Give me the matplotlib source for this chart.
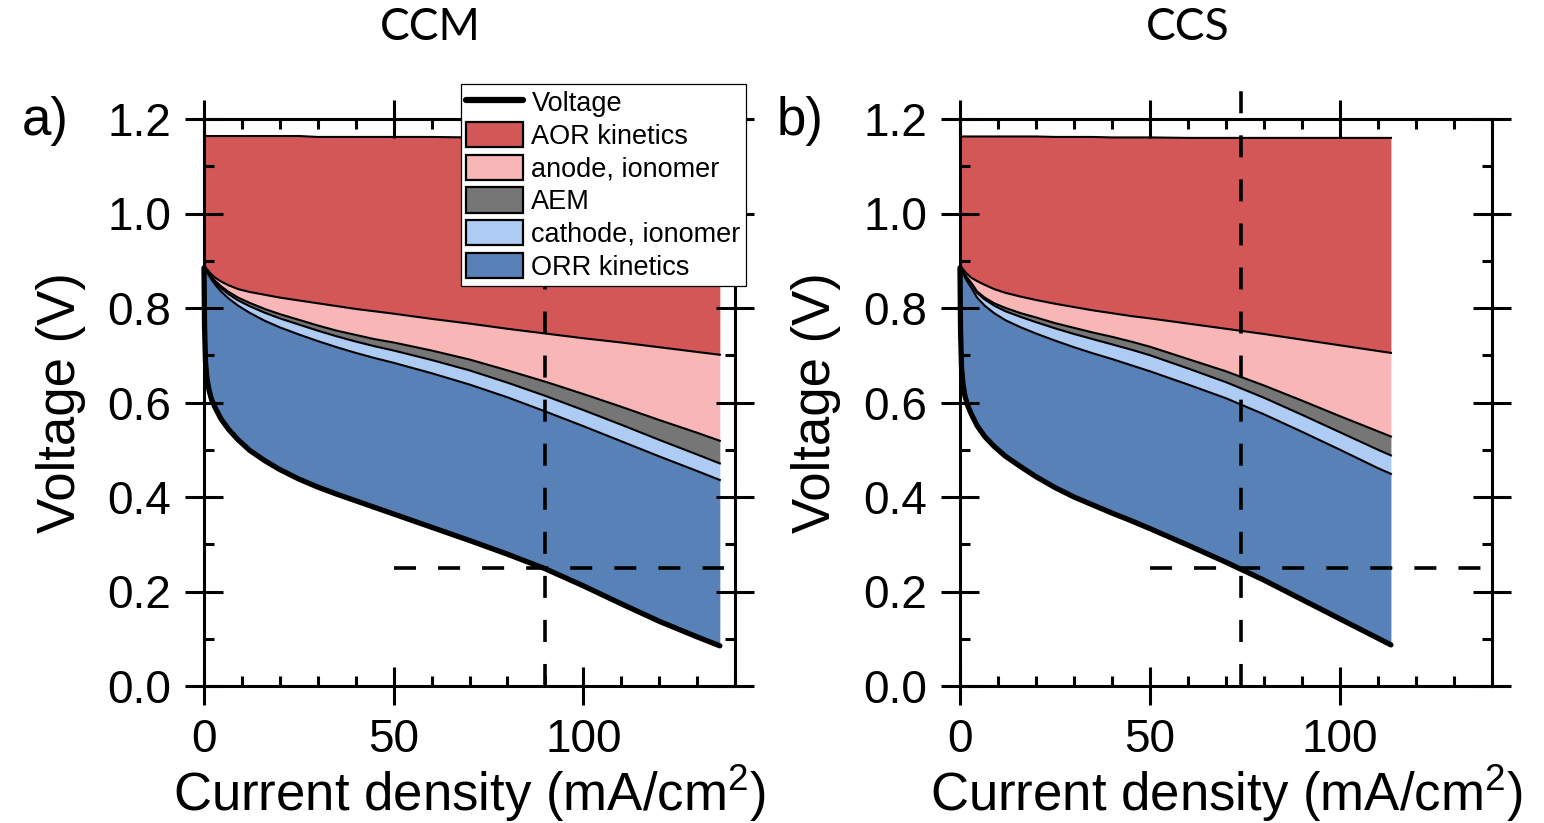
import matplotlib
matplotlib.use("Agg")
import matplotlib.pyplot as plt
from matplotlib.lines import Line2D
from matplotlib.patches import Patch
from matplotlib.ticker import MultipleLocator

plt.rcParams['font.family'] = 'Liberation Sans'
plt.rcParams['mathtext.fontset'] = 'custom'
plt.rcParams['mathtext.rm'] = 'Liberation Sans'
plt.rcParams['mathtext.it'] = 'Liberation Sans'

# ---------------- data: CCM (catalyst-coated membrane) ----------------
ccm_j = [0, 0.15, 0.4, 0.8, 1.3, 2, 3, 4.5, 6.5, 9, 12, 16, 20, 25, 30, 35, 40, 45,
         50, 60, 70, 80, 90, 100, 110, 120, 130, 136]
ccm_voltage = [0.885, 0.76, 0.685, 0.65, 0.627, 0.606, 0.588, 0.565, 0.543, 0.521,
               0.499, 0.477, 0.458, 0.438, 0.421, 0.406, 0.392, 0.378, 0.364, 0.336,
               0.308, 0.279, 0.248, 0.212, 0.174, 0.137, 0.104, 0.085]
ccm_orr_top = [0.89, 0.887, 0.882, 0.876, 0.869, 0.860, 0.849, 0.835, 0.820, 0.805,
               0.790, 0.773, 0.759, 0.744, 0.730, 0.717, 0.705, 0.694, 0.684, 0.662,
               0.638, 0.611, 0.581, 0.550, 0.518, 0.486, 0.455, 0.436]
ccm_cathode_top = [0.89, 0.888, 0.883, 0.878, 0.872, 0.864, 0.854, 0.842, 0.829,
                   0.816, 0.804, 0.790, 0.778, 0.765, 0.752, 0.740, 0.729, 0.719,
                   0.710, 0.690, 0.668, 0.642, 0.614, 0.584, 0.553, 0.521, 0.490,
                   0.471]
ccm_aem_top = [0.89, 0.888, 0.884, 0.879, 0.874, 0.866, 0.857, 0.846, 0.834, 0.822,
               0.811, 0.798, 0.787, 0.775, 0.763, 0.752, 0.743, 0.734, 0.727, 0.710,
               0.691, 0.668, 0.644, 0.618, 0.591, 0.563, 0.536, 0.519]
ccm_anode_top = [0.89, 0.889, 0.886, 0.882, 0.877, 0.871, 0.864, 0.856, 0.848,
                 0.840, 0.834, 0.828, 0.822, 0.816, 0.810, 0.804, 0.798, 0.793,
                 0.788, 0.777, 0.767, 0.756, 0.746, 0.736, 0.727, 0.717, 0.707,
                 0.701]
ccm_aor_top = [1.164, 1.164, 1.164, 1.164, 1.164, 1.164, 1.164, 1.164, 1.164, 1.164,
               1.164, 1.164, 1.164, 1.164, 1.162, 1.162, 1.162, 1.162, 1.162, 1.162,
               1.161, 1.161, 1.161, 1.161, 1.161, 1.161, 1.161, 1.161]

# ---------------- data: CCS (catalyst-coated substrate) ----------------
ccs_j = [0, 0.15, 0.4, 0.8, 1.3, 2, 3, 4.5, 6.5, 9, 12, 16, 20, 25, 30, 35, 40, 45,
         50, 60, 70, 80, 90, 100, 110, 113.4]
ccs_voltage = [0.885, 0.75, 0.675, 0.638, 0.614, 0.594, 0.575, 0.551, 0.528, 0.507,
               0.486, 0.464, 0.443, 0.420, 0.400, 0.383, 0.366, 0.350, 0.333, 0.298,
               0.262, 0.224, 0.183, 0.142, 0.101, 0.087]
ccs_orr_top = [0.89, 0.887, 0.881, 0.874, 0.865, 0.855, 0.843, 0.822, 0.805, 0.789,
               0.774, 0.759, 0.746, 0.731, 0.717, 0.704, 0.692, 0.679, 0.666, 0.638,
               0.609, 0.575, 0.538, 0.500, 0.461, 0.449]
ccs_cathode_top = [0.89, 0.888, 0.883, 0.877, 0.869, 0.861, 0.851, 0.832, 0.818,
                   0.805, 0.793, 0.781, 0.770, 0.757, 0.745, 0.734, 0.723, 0.712,
                   0.700, 0.672, 0.643, 0.610, 0.574, 0.537, 0.500, 0.488]
ccs_aem_top = [0.89, 0.888, 0.884, 0.878, 0.870, 0.863, 0.853, 0.835, 0.822, 0.810,
               0.800, 0.789, 0.780, 0.768, 0.758, 0.748, 0.739, 0.729, 0.718, 0.692,
               0.666, 0.636, 0.604, 0.571, 0.539, 0.528]
ccs_anode_top = [0.89, 0.889, 0.886, 0.882, 0.877, 0.871, 0.864, 0.857, 0.849,
                 0.840, 0.832, 0.824, 0.817, 0.809, 0.802, 0.795, 0.789, 0.783,
                 0.778, 0.767, 0.756, 0.745, 0.733, 0.721, 0.709, 0.705]
ccs_aor_top = [1.163, 1.163, 1.163, 1.163, 1.163, 1.163, 1.163, 1.163, 1.163, 1.163,
               1.163, 1.163, 1.163, 1.162, 1.162, 1.162, 1.161, 1.161, 1.161, 1.160,
               1.160, 1.160, 1.160, 1.160, 1.160, 1.160]

# operating point marked by the dashed guides
target_voltage = 0.25
ccm_j_at_target = 90
ccs_j_at_target = 74

panel_titles = ["CCM", "CCS"]
panel_letters = ["a)", "b)"]
loss_labels = ["ORR kinetics", "cathode, ionomer", "AEM", "anode, ionomer",
               "AOR kinetics"]
loss_colors = ["#5881B7", "#AECBF3", "#767676", "#F8B6B6", "#D35757"]

x_ticks = [0, 50, 100]
y_ticks = [0.0, 0.2, 0.4, 0.6, 0.8, 1.0, 1.2]

W, H = 1544, 823
fig = plt.figure(figsize=(W / 100, H / 100), dpi=100)
ax_ccm = fig.add_axes([204 / W, 137 / H, 531 / W, 567 / H])
ax_ccs = fig.add_axes([960 / W, 137 / H, 532 / W, 567 / H])


def draw_panel(ax, j, bounds, j_target):
    for lo, hi, col in zip(bounds[:-1], bounds[1:], loss_colors):
        ax.fill_between(j, lo, hi, color=col, lw=0, zorder=1)
    for b in bounds[1:]:
        ax.plot(j, b, color="black", lw=1.5, zorder=2)
    ax.plot(j, bounds[0], color="black", lw=3.8, solid_capstyle="round",
            zorder=3, clip_on=False)
    dash = (0, (6.1, 6.1))
    ax.plot([j_target, j_target], [0, 1.26], color="black", lw=2.6,
            linestyle=dash, zorder=4, clip_on=False)
    ax.plot([50, 137], [target_voltage, target_voltage], color="black", lw=2.6,
            linestyle=dash, zorder=4, clip_on=False)

    ax.set_xlim(0, 140)
    ax.set_ylim(0, 1.2)
    ax.set_xticks(x_ticks)
    ax.set_xticklabels([str(t) for t in x_ticks])
    ax.set_yticks(y_ticks)
    ax.set_yticklabels([f"{t:.1f}" for t in y_ticks])
    ax.xaxis.set_minor_locator(MultipleLocator(10))
    ax.yaxis.set_minor_locator(MultipleLocator(0.1))
    for s in ax.spines.values():
        s.set_linewidth(2.2)
    ax.tick_params(which="major", direction="inout", length=27.5, width=2.2,
                   top=True, right=True, labelsize=33)
    ax.tick_params(which="minor", direction="in", length=7, width=2.2,
                   top=True, right=True)
    ax.tick_params(axis="x", which="major", pad=9)
    ax.tick_params(axis="y", which="major", pad=10)
    ax.set_xlabel("Current density (mA/cm$^2$)", fontsize=38)
    ax.xaxis.set_label_coords(0.5, -0.19)
    ax.xaxis.label.set_va("center")
    ax.set_ylabel("Voltage (V)", fontsize=38)
    ax.yaxis.set_label_coords(-0.27, 0.5)
    ax.yaxis.label.set_va("center")


draw_panel(ax_ccm, ccm_j, [ccm_voltage, ccm_orr_top, ccm_cathode_top, ccm_aem_top,
                           ccm_anode_top, ccm_aor_top], ccm_j_at_target)
draw_panel(ax_ccs, ccs_j, [ccs_voltage, ccs_orr_top, ccs_cathode_top, ccs_aem_top,
                           ccs_anode_top, ccs_aor_top], ccs_j_at_target)

fig.text(430 / W, 1 - 28 / H, panel_titles[0], fontsize=32, ha="center",
         va="center", family="Lato")
fig.text(1188 / W, 1 - 28 / H, panel_titles[1], fontsize=32, ha="center",
         va="center", family="Lato")
fig.text(45 / W, 1 - 121 / H, panel_letters[0], fontsize=38, ha="center",
         va="center")
fig.text(800 / W, 1 - 121 / H, panel_letters[1], fontsize=38, ha="center",
         va="center")

handles = [Line2D([], [], color="black", lw=4.5, solid_capstyle="round")]
for col in loss_colors[::-1]:
    handles.append(Patch(facecolor=col, edgecolor="black", lw=1.6))
labels = ["Voltage"] + loss_labels[::-1]
leg = ax_ccm.legend(handles, labels, loc="upper left",
                    bbox_to_anchor=(461 / W, 1 - 84 / H),
                    bbox_transform=fig.transFigure, fontsize=19.5, frameon=True,
                    fancybox=False, framealpha=1, edgecolor="black",
                    borderpad=0.2, borderaxespad=0, handlelength=2.1,
                    handleheight=1.05, handletextpad=0.3, labelspacing=0.18)
leg.get_frame().set_linewidth(0.9)
leg.set_zorder(10)

fig.savefig("out.png", dpi=100)
